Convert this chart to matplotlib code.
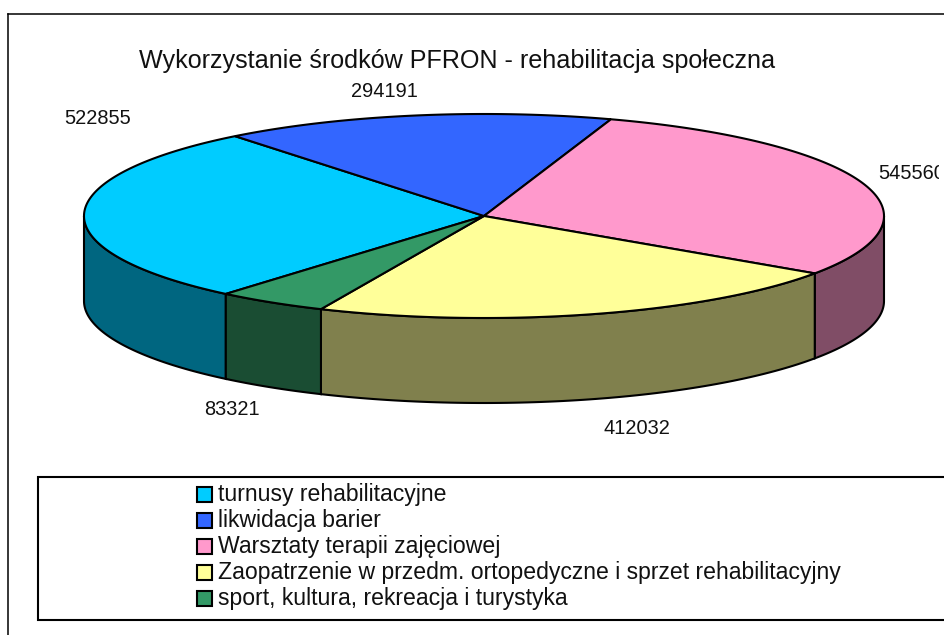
import numpy as np
import matplotlib
matplotlib.use("Agg")
import matplotlib.pyplot as plt
from matplotlib.patches import Polygon, Rectangle

plt.rcParams["font.family"] = ["Liberation Sans", "DejaVu Sans"]

title = "Wykorzystanie środków PFRON - rehabilitacja społeczna"
categories = ["turnusy rehabilitacyjne",
              "likwidacja barier",
              "Warsztaty terapii zajęciowej",
              "Zaopatrzenie w przedm. ortopedyczne i sprzet rehabilitacyjny",
              "sport, kultura, rekreacja i turystyka"]
values = [522855, 294191, 545560, 412032, 83321]
colors = ["#00CCFF", "#3366FF", "#FF99CC", "#FFFF99", "#339966"]
side_colors = ["#006680", "#1A3380", "#804D66", "#80804D", "#1A4D33"]

# pie geometry, in pixels of the picture
cx, cy = 484, 216
rx, ry = 400, 102
depth = 85
start = 229.8  # clockwise from here
lw = 1.5


def ellipse(theta, dy=0):
    t = np.radians(theta)
    return np.column_stack([cx + rx * np.cos(t), cy - ry * np.sin(t) + dy])


fig = plt.figure(figsize=(9.45, 6.35), dpi=100)
ax = fig.add_axes([0, 0, 1, 1])
ax.set_xlim(0, 945)
ax.set_ylim(635, 0)
ax.axis("off")

# chart frame, runs off the picture at right and bottom
ax.plot([8, 8], [640, 13.5], color="black", lw=1.1)
ax.plot([8, 950], [13.5, 13.5], color="black", lw=1.1)

fracs = np.array(values) / sum(values)
edges = start - np.concatenate([[0], np.cumsum(fracs)]) * 360

# side walls, only the front half (180..360) can be seen
for i in range(len(values)):
    a1, a0 = edges[i], edges[i + 1]  # a0 < a1
    for shift in (0, -360):
        lo = max(a0 + shift, -180)
        hi = min(a1 + shift, 0)
        if hi <= lo:
            continue
        t = np.linspace(lo, hi, 80)
        pts = np.vstack([ellipse(t), ellipse(t[::-1], depth)])
        ax.add_patch(Polygon(pts, closed=True, fc=side_colors[i], ec="black", lw=lw, joinstyle="miter"))

# top face
for i in range(len(values)):
    t = np.linspace(edges[i], edges[i + 1], 150)
    pts = np.vstack([[cx, cy], ellipse(t)])
    ax.add_patch(Polygon(pts, closed=True, fc=colors[i], ec="black", lw=lw, joinstyle="miter"))

ax.text(457.5, 61, title, fontsize=18.05, ha="center", va="center", color="#111111")

clip = Rectangle((0, 0), 938.5, 635, transform=ax.transData)
label_pos = [(97.5, 118.5), (384, 91.5), (912, 173.5), (637, 428.5), (232, 409.5)]
for v, (x, y) in zip(values, label_pos):
    t = ax.text(x, y, str(v), fontsize=14.4, ha="center", va="center", color="#111111")
    t.set_clip_path(clip)
    t.set_clip_on(True)

# legend box
ax.plot([950, 38, 38, 950], [477, 477, 620, 620], color="black", lw=1.5, solid_joinstyle="miter")
leg_y = [494, 520, 546, 572, 598]
for name, c, y in zip(categories, colors, leg_y):
    ax.add_patch(Rectangle((197, y - 7.5), 15, 15, fc=c, ec="black", lw=1.5))
    ax.text(218.5, y + 1, name, fontsize=16.55, ha="left", va="center", color="#111111")

fig.savefig("out.png", dpi=100)
